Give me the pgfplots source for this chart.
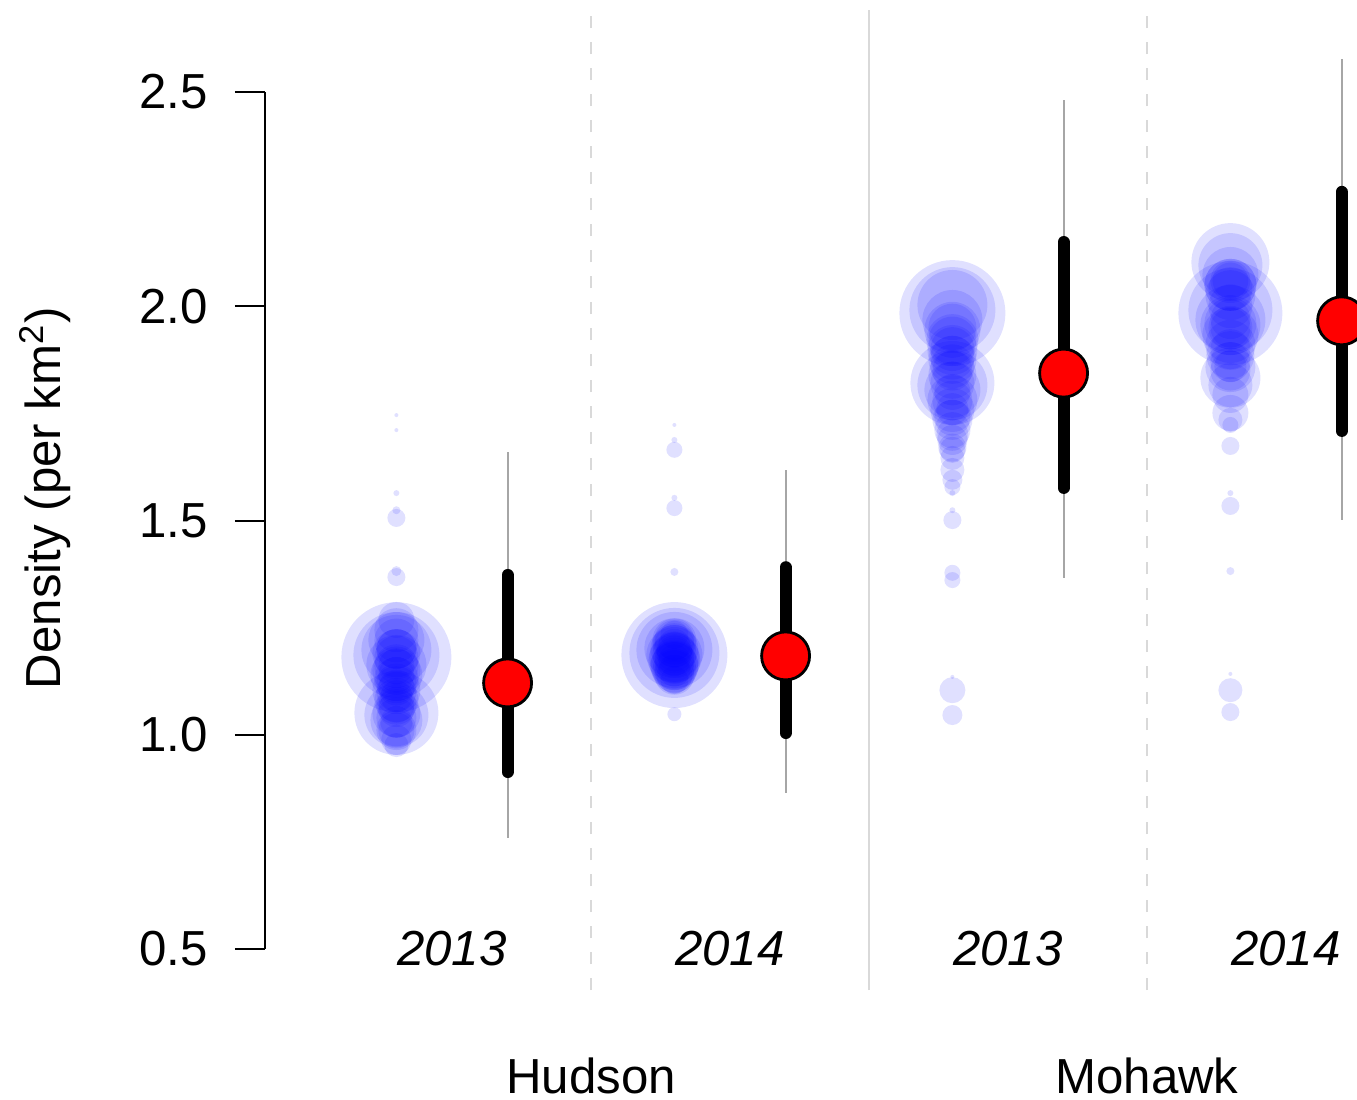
\documentclass[border=0pt]{standalone}
\usepackage{pgfplots}
\pgfplotsset{compat=1.18}
\usepackage{pgfplotstable}
\usepackage{fontspec}
\setmainfont{Liberation Sans}

\pgfplotstableread{
y r
1.181 55
1.186 43
1.198 35
1.221 28
1.244 22
1.268 18
1.163 30
1.139 26
1.104 24
1.081 22
1.051 42
1.046 32
1.034 26
1.011 20
0.988 15
0.976 12
1.120 20
1.160 18
1.070 18
1.200 20
1.180 22
1.140 18
1.090 16
1.060 18
1.030 16
1.220 22
1.190 24
1.160 22
1.130 22
1.100 20
1.070 20
1.040 20
1.010 18
1.150 24
1.050 24
1.200 20
1.110 18
1.368 9
1.382 5
1.506 9
1.524 4
1.564 3
1.711 2
1.746 2
}\hudA

\pgfplotstableread{
y r
1.186 53
1.191 45
1.198 38
1.202 30
1.186 28
1.174 26
1.163 24
1.209 22
1.221 20
1.151 20
1.139 18
1.198 18
1.174 16
1.128 14
1.233 14
1.190 18
1.170 20
1.210 16
1.150 16
1.200 24
1.180 25
1.160 24
1.220 22
1.140 20
1.190 22
1.170 22
1.210 20
1.150 22
1.180 20
1.048 7
1.380 4
1.529 8
1.553 3
1.665 8
1.688 3
1.723 2
}\hudB

\pgfplotstableread{
y r
1.984 53
1.991 43
2.003 35
1.968 30
1.945 28
1.921 26
1.898 25
1.875 24
1.821 42
1.816 35
1.805 28
1.781 25
1.758 22
1.735 20
1.711 18
1.688 15
1.665 13
1.646 12
1.618 12
1.595 10
1.578 8
1.850 20
1.800 18
1.760 16
1.950 24
1.900 22
1.860 22
1.820 22
1.780 20
1.740 18
1.700 16
1.670 14
1.920 24
1.840 24
1.880 22
1.564 3
1.501 9
1.524 3
1.378 8
1.361 8
1.135 2
1.104 13
1.046 10
}\mohA

\pgfplotstableread{
y r
2.103 39
2.096 32
2.073 28
2.050 26
2.026 25
1.984 52
1.991 42
1.968 35
1.956 30
1.933 28
1.910 25
1.886 24
1.858 25
1.833 30
1.816 22
1.793 18
2.060 18
1.950 20
1.860 16
2.050 26
2.040 22
1.960 26
1.950 22
1.970 20
2.060 20
1.870 20
1.850 20
2.000 22
1.900 20
1.751 18
1.735 12
1.723 8
1.674 9
1.564 3
1.534 9
1.382 4
1.142 2
1.104 12
1.053 9
}\mohB

\pgfplotstableread{
x m lo95 hi95 lo50 hi50
1.2 1.121 0.759 1.660 0.913 1.373
2.2 1.184 0.864 1.618 1.004 1.391
3.2 1.844 1.366 2.481 1.576 2.150
4.2 1.966 1.501 2.577 1.709 2.267
}\est

\pgfplotsset{
  bubbles/.style={scatter, only marks, mark=*,
    scatter/use mapped color={draw=blue, fill=blue},
    fill opacity=0.12, draw opacity=0,
    visualization depends on={0.25*\thisrow{r} \as \perpointmarksize},
    scatter/@pre marker code/.append style={/tikz/mark size=\perpointmarksize, /tikz/draw opacity=0, /tikz/line width=0pt}}
}

\begin{document}
\begin{tikzpicture}
\begin{axis}[
  scale only axis, width=273pt, height=214.25pt,
  xmin=0.3273, xmax=4.2554, ymin=0.5, ymax=2.5,
  axis x line=none, axis y line*=left,
  clip=false,
  ytick={0.5,1.0,1.5,2.0,2.5},
  yticklabel style={xshift=-3.25pt, /pgf/number format/.cd, fixed, fixed zerofill, precision=1, assume math mode=true},
  tick label style={font=\fontsize{12.3}{14}\selectfont},
  tick align=outside, major tick length=7.5pt,
  y axis line style={line width=0.5pt},
  ytick style={line width=0.5pt, black},
]
\draw[black!15, line width=0.5pt, dash pattern=on 3pt off 3.5pt] (axis cs:1.5,0.404) -- (axis cs:1.5,2.691);
\draw[black!15, line width=0.5pt] (axis cs:2.5,0.404) -- (axis cs:2.5,2.691);
\draw[black!15, line width=0.5pt, dash pattern=on 3pt off 3.5pt] (axis cs:3.5,0.404) -- (axis cs:3.5,2.691);

\addplot[bubbles] table[x expr=0.8, y=y] {\hudA};
\addplot[bubbles] table[x expr=1.8, y=y] {\hudB};
\addplot[bubbles] table[x expr=2.8, y=y] {\mohA};
\addplot[bubbles] table[x expr=3.8, y=y] {\mohB};

\addplot[only marks, mark=none, error bars/.cd, y dir=both, y explicit, error mark=none,
  error bar style={black!35, line width=0.5pt}]
  table[x=x, y=m, y error plus expr=\thisrow{hi95}-\thisrow{m}, y error minus expr=\thisrow{m}-\thisrow{lo95}] {\est};
\addplot[only marks, mark=none, error bars/.cd, y dir=both, y explicit, error mark=none,
  error bar style={black, line width=3pt, line cap=round}]
  table[x=x, y=m, y error plus expr=\thisrow{hi50}-\thisrow{m}, y error minus expr=\thisrow{m}-\thisrow{lo50}] {\est};
\addplot[only marks, mark=*, mark size=6pt, mark options={fill=red, draw=black, line width=0.7pt}]
  table[x=x, y=m] {\est};

\node[font=\fontsize{12.3}{14}\selectfont\itshape] at (axis cs:1,0.5) {2013};
\node[font=\fontsize{12.3}{14}\selectfont\itshape] at (axis cs:2,0.5) {2014};
\node[font=\fontsize{12.3}{14}\selectfont\itshape] at (axis cs:3,0.5) {2013};
\node[font=\fontsize{12.3}{14}\selectfont\itshape] at (axis cs:4,0.5) {2014};
\node[font=\fontsize{12.3}{14}\selectfont] at (axis cs:1.5,0.205) {Hudson};
\node[font=\fontsize{12.3}{14}\selectfont] at (axis cs:3.5,0.205) {Mohawk};
\node[font=\fontsize{12.3}{14}\selectfont, rotate=90] at (axis cs:-0.464,1.5525) {Density (per km\textsuperscript{2})};

\coordinate (bbsw) at (axis cs:-0.6259,0.1499);
\coordinate (bbne) at (axis cs:4.2554,2.7147);
\end{axis}
\pgfresetboundingbox
\useasboundingbox (bbsw) rectangle (bbne);
\end{tikzpicture}
\end{document}
